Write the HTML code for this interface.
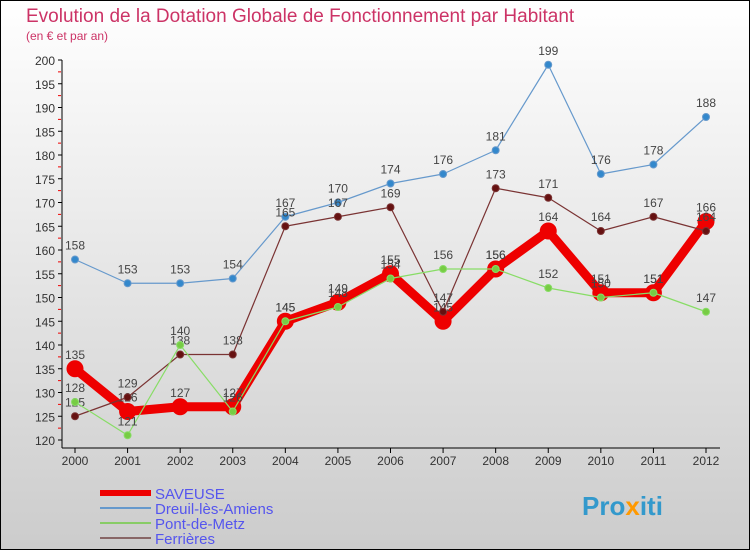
<!DOCTYPE html>
<html><head><meta charset="utf-8"><style>
body{margin:0}
svg{display:block;font-family:"Liberation Sans",sans-serif}
</style></head><body>
<svg id="c" width="750" height="550">
<defs><linearGradient id="bg" x1="0" y1="0" x2="0" y2="1"><stop offset="0" stop-color="#ffffff"/><stop offset="1" stop-color="#cccccc"/></linearGradient></defs>
<rect x="0.5" y="0.5" width="749" height="549" fill="url(#bg)" stroke="#000"/>
<text x="26" y="22" font-size="19" fill="#cc3366">Evolution de la Dotation Globale de Fonctionnement par Habitant</text>
<text x="26" y="40" font-size="12" fill="#cc3366">(en € et par an)</text>
<g id="axes"></g><g id="series"></g><g id="legend"></g>
<text x="582" y="515" font-size="26" font-weight="bold" fill="#3399cc">Pro<tspan fill="#ff9900">x</tspan>iti</text>
</svg>
<script>
const years=["2000","2001","2002","2003","2004","2005","2006","2007","2008","2009","2010","2011","2012"];
const yTicks=[120,125,130,135,140,145,150,155,160,165,170,175,180,185,190,195,200];
const saveuse=[135,126,127,127,145,149,155,145,156,164,151,151,166];
const dreuil=[158,153,153,154,167,170,174,176,181,199,176,178,188];
const pont=[128,121,140,126,145,148,154,156,156,152,150,151,147];
const ferrieres=[125,129,138,138,165,167,169,147,173,171,164,167,164];
const NS="http://www.w3.org/2000/svg";
function X(i){return 75+i*(706-75)/12;}
function Y(v){return 440-(v-120)*380/80;}
function mk(t,a,p){const e=document.createElementNS(NS,t);for(const k in a)e.setAttribute(k,a[k]);p.appendChild(e);return e;}
const ax=document.getElementById('axes');
let l=mk('line',{x1:62,y1:Y(200),x2:62,y2:448,stroke:'#000'},ax);


l=mk('line',{x1:62,y1:448,x2:720,y2:448,stroke:'#000'},ax);


yTicks.forEach(v=>{
 mk('line',{x1:58,y1:Y(v),x2:62,y2:Y(v),stroke:'#000'},ax);
 if(v<200)mk('line',{x1:58,y1:Y(v+2.5),x2:61,y2:Y(v+2.5),stroke:'#e00'},ax);
 const t=mk('text',{x:55,y:Y(v)+5,'font-size':12,fill:'#333','text-anchor':'end'},ax);
 t.textContent=v;
 
 
});
years.forEach((y,i)=>{
 mk('line',{x1:X(i),y1:448,x2:X(i),y2:453,stroke:'#000'},ax);
 const t=mk('text',{x:X(i),y:465,'font-size':12,fill:'#333','text-anchor':'middle'},ax);
 t.textContent=y;
 
 
});
const sg=document.getElementById('series');
function draw(data,name,color,dot,w,r){
 const g=mk('g',{},sg);
 
 
 const ln=mk('polyline',{points:data.map((v,i)=>X(i)+','+Y(v)).join(' '),fill:'none',stroke:color,'stroke-width':w,'stroke-linejoin':'round'},g);
 
 
 data.forEach((v,i)=>{
  const c=mk('circle',{cx:X(i),cy:Y(v),r:r,fill:dot,stroke:color,'stroke-width':1},g);
  
  
  const t=mk('text',{x:X(i),y:Y(v)-10,'font-size':12,fill:'#444','text-anchor':'middle'},g);
  t.textContent=v;
  
  
 });
}
draw(dreuil,'dreuil','#6699cc','#3388cc',1.2,3.5);
draw(saveuse,'saveuse','#ee0000','#ee0000',9,8);
draw(ferrieres,'ferrieres','#7a3333','#661111',1.2,3.5);
draw(pont,'pont-de-metz','#88dd66','#77cc44',1.2,3.5);
const lg=document.getElementById('legend');
const items=[["SAVEUSE","#ee0000",6],["Dreuil-lès-Amiens","#6699cc",2],["Pont-de-Metz","#88cc66",2],["Ferrières","#886666",2]];
items.forEach((it,i)=>{
 const y=493+i*15;
 const g=mk('g',{},lg);
 
 
 mk('line',{x1:100,y1:y,x2:151,y2:y,stroke:it[1],'stroke-width':it[2]},g);
 const t=mk('text',{x:155,y:y+6,'font-size':15,fill:'#5555ee'},g);
 t.textContent=it[0];
});
</script>
</body></html>
